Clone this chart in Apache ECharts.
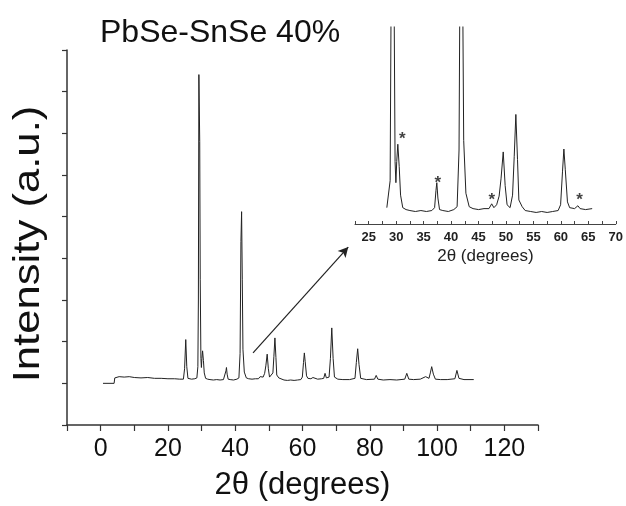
<!DOCTYPE html>
<html>
<head>
<meta charset="utf-8">
<script src="https://cdn.jsdelivr.net/npm/echarts@6/dist/echarts.min.js"></script>
<style>html,body{margin:0;padding:0;background:#fff}#c{width:626px;height:506px}</style>
</head>
<body>
<div id="c"></div>
<script>
// 2-theta (degrees) and intensity (a.u., 1 unit = one y-tick)
var twoTheta = [0.7,4.0,4.2,4.6,5.5,7,8.5,10,12,14,16,18,20,22,23.5,24.6,24.95,25.3,25.6,25.95,27,28,28.3,28.6,28.9,29.05,29.2,29.45,29.6,29.8,29.95,30.1,30.3,30.55,30.8,31.2,31.8,32.5,33.5,34.5,35.5,36.5,37.0,37.25,37.4,37.6,37.9,38.5,39.5,40.5,41.1,41.45,41.7,41.9,42.1,42.3,42.7,43.3,44,45,46,46.9,47.4,47.8,48.3,48.75,49.1,49.5,49.85,50.2,50.75,51.2,51.5,51.8,52.1,52.35,52.95,53.5,54.5,55.5,56.5,57.5,58.5,59.5,59.95,60.3,60.55,60.8,61.2,61.6,62.5,63.1,63.5,64.5,65.7,66.3,66.7,67.1,67.9,68.3,68.7,69.1,69.5,70.5,72,74,75.6,76.0,76.4,76.8,77.3,79,81.4,81.9,82.4,84,86,88,90.4,91,91.6,93,95,96.6,97.6,98.0,98.4,98.9,99.5,101,103,105.3,105.9,106.5,108,110.9];
var intensity = [1.00,1.00,1.13,1.15,1.16,1.15,1.16,1.14,1.13,1.14,1.12,1.12,1.11,1.11,1.10,1.10,1.35,2.05,1.40,1.12,1.10,1.11,1.12,1.13,1.40,3.0,8.41,6.8,3.5,1.6,1.38,1.60,1.78,1.55,1.25,1.12,1.10,1.09,1.08,1.09,1.08,1.09,1.12,1.30,1.38,1.22,1.10,1.09,1.08,1.10,1.13,1.72,4.4,5.12,3.5,1.82,1.27,1.13,1.11,1.10,1.11,1.11,1.16,1.12,1.15,1.24,1.42,1.70,1.35,1.15,1.12,1.25,1.65,2.09,1.62,1.20,1.13,1.09,1.08,1.07,1.08,1.07,1.08,1.09,1.15,1.50,1.73,1.52,1.18,1.12,1.11,1.14,1.11,1.10,1.11,1.12,1.24,1.13,1.15,1.6,2.33,1.6,1.15,1.10,1.09,1.09,1.12,1.5,1.83,1.45,1.12,1.09,1.10,1.19,1.10,1.08,1.09,1.08,1.10,1.24,1.10,1.09,1.10,1.16,1.12,1.25,1.40,1.22,1.10,1.09,1.09,1.11,1.31,1.12,1.09,1.09];
// 2-theta window plotted in the inset
var insetRange = [28.3, 65.7];
// asterisk-marked peaks in the inset
var starTheta = [31.1, 37.6, 47.4, 63.4];
var starIntensity = [1.87, 1.42, 1.24, 1.24];
// arrow from main plot to inset (data coords)
var arrowFrom = [45.3, 1.73];
var arrowTo = [73.6, 4.27];
var mainXLabels = [0,20,40,60,80,100,120];
var insetXLabels = [25,30,35,40,45,50,55,60,65,70];

var FONT = "'Liberation Sans', Arial, Helvetica, sans-serif";
var series = twoTheta.map(function(x,i){return [x,intensity[i]];});
var insetSeries = series.filter(function(p){return p[0]>=insetRange[0] && p[0]<=insetRange[1];});
var stars = starTheta.map(function(x,i){return [x,starIntensity[i]];});

var chart = echarts.init(document.getElementById('c'), null, {renderer:'canvas'});
chart.setOption({
  animation:false,
  backgroundColor:'#fff',
  title:{text:'PbSe-SnSe 40%', left:95, top:12, textStyle:{fontFamily:FONT, fontSize:32, fontWeight:'normal', color:'#111'}},
  graphic:[
    {type:'text', x:29, y:244, rotation:Math.PI/2, scaleX:1.18, scaleY:1,
     style:{text:'Intensity (a.u.)', fontFamily:FONT, fontSize:37, fill:'#111', align:'center', verticalAlign:'middle'}}
  ],
  grid:[
    {left:67, right:88, top:50, bottom:77},
    {left:355, right:10, top:27, bottom:282}
  ],
  xAxis:[
    {gridIndex:0, type:'value', min:-10, max:130, interval:10,
     axisLine:{onZero:false, lineStyle:{color:'#333', width:1.5}},
     axisTick:{length:6, lineStyle:{color:'#333', width:1.2}},
     axisLabel:{fontFamily:FONT, fontSize:25, color:'#111', margin:12,
       formatter:function(v){return mainXLabels.indexOf(v)>=0 ? String(v) : '';}},
     splitLine:{show:false},
     name:'2\u03b8 (degrees)', nameLocation:'middle', nameGap:45,
     nameTextStyle:{fontFamily:FONT, fontSize:31, color:'#111'}},
    {gridIndex:1, type:'value', min:22.5, max:70, interval:2.5,
     axisLine:{onZero:false, lineStyle:{color:'#444', width:1}},
     axisTick:{inside:true, length:3, lineStyle:{color:'#444'}},
     axisLabel:{fontFamily:FONT, fontSize:13, fontWeight:'bold', color:'#222', margin:7,
       formatter:function(v){return insetXLabels.indexOf(v)>=0 ? String(v) : '';}},
     splitLine:{show:false},
     name:'2\u03b8 (degrees)', nameLocation:'middle', nameGap:24,
     nameTextStyle:{fontFamily:FONT, fontSize:17, color:'#222'}}
  ],
  yAxis:[
    {gridIndex:0, type:'value', min:0, max:9, interval:1,
     axisLine:{show:true, onZero:false, lineStyle:{color:'#333', width:1.5}},
     axisTick:{show:true, length:5, lineStyle:{color:'#333', width:1.2}},
     axisLabel:{show:false}, splitLine:{show:false}},
    {gridIndex:1, type:'value', min:0.95, max:3.0, show:false, splitLine:{show:false}}
  ],
  series:[
    {type:'line', xAxisIndex:0, yAxisIndex:0, data:series, showSymbol:false, symbol:'none',
     lineStyle:{color:'#222', width:1},
     markLine:{silent:true, symbol:['none','arrow'], symbolSize:[8,10], label:{show:false},
       lineStyle:{color:'#222', width:1.2, type:'solid'},
       data:[[{coord:arrowFrom},{coord:arrowTo}]]}},
    {type:'line', xAxisIndex:1, yAxisIndex:1, data:insetSeries, showSymbol:false, symbol:'none',
     clip:true, lineStyle:{color:'#222', width:1}},
    {type:'scatter', xAxisIndex:1, yAxisIndex:1, data:stars, symbolSize:1,
     itemStyle:{color:'rgba(0,0,0,0)'},
     label:{show:true, position:'inside', formatter:'*', fontFamily:FONT, fontSize:17, fontWeight:'bold', color:'#111', offset:[0,4]}}
  ]
});
</script>
</body>
</html>
